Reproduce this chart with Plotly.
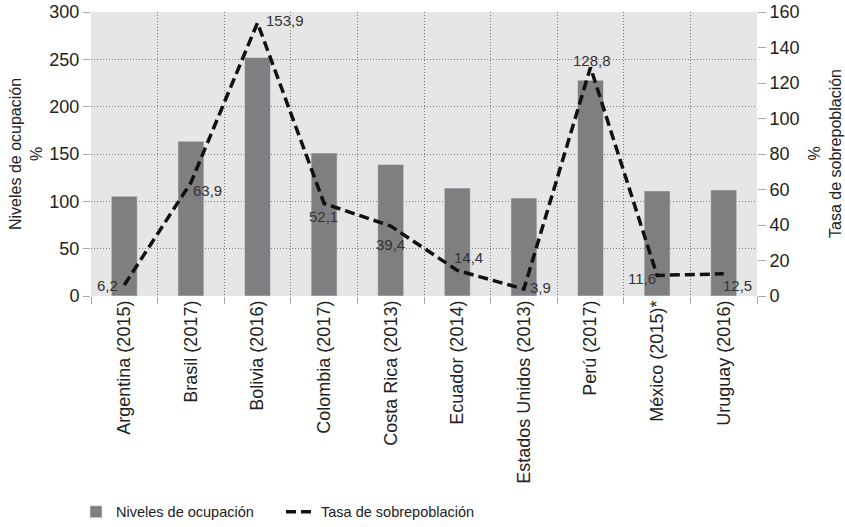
import plotly.graph_objects as go

categories = ["Argentina (2015)", "Brasil (2017)", "Bolivia (2016)", "Colombia (2017)",
              "Costa Rica (2013)", "Ecuador (2014)", "Estados Unidos (2013)", "Perú (2017)",
              "México (2015)*", "Uruguay (2016)"]
ocupacion = [105.5, 163.5, 252, 151, 139, 114, 103.5, 228, 111, 112]
sobrepoblacion = [6.2, 63.9, 153.9, 52.1, 39.4, 14.4, 3.9, 128.8, 11.6, 12.5]

# label offsets (px) relative to each point of the line
label_dx = [-17, 17, 27, -1, 0, 11, 17, 1, -15, 14]
label_dy = [0, -8, 2, -13, -18, 13, 2, 7, -3, -12]

FONT = "Liberation Sans, Arial, sans-serif"
labels = [f"{v:.1f}".replace(".", ",") for v in sobrepoblacion]

fig = go.Figure()
fig.add_trace(go.Bar(
    x=categories, y=ocupacion, name="Niveles de ocupación",
    marker=dict(color="#7f7f81"), width=0.39, yaxis="y"
))
fig.add_trace(go.Scatter(
    x=categories, y=sobrepoblacion, name="Tasa de sobrepoblación", yaxis="y2",
    mode="lines", line=dict(color="#111111", width=3.5, dash="10px,5px"),
    cliponaxis=False
))

annotations = [
    dict(x=c, y=v, xref="x", yref="y2", text=t, showarrow=False,
         xshift=dx, yshift=dy, xanchor="center", yanchor="middle",
         font=dict(family=FONT, size=15, color="#333333"))
    for c, v, t, dx, dy in zip(categories, sobrepoblacion, labels, label_dx, label_dy)
]
annotations += [
    dict(text="Niveles de ocupación<br>%", textangle=-90, xref="paper", yref="paper",
         x=(26 - 91) / 666, y=0.5, showarrow=False, xanchor="center", yanchor="middle",
         font=dict(size=16, family=FONT, color="#222222")),
    dict(text="%<br>Tasa de sobrepoblación", textangle=-90, xref="paper", yref="paper",
         x=(825 - 91) / 666, y=0.5, showarrow=False, xanchor="center", yanchor="middle",
         font=dict(size=16, family=FONT, color="#222222")),
]

grid = dict(showgrid=True, gridcolor="#7a7a7a", gridwidth=1, griddash="1px,2px")

fig.update_layout(
    width=845, height=527,
    margin=dict(l=91, r=88, t=12, b=231, autoexpand=False),
    paper_bgcolor="white", plot_bgcolor="#e6e6e6",
    font=dict(family=FONT, size=17, color="#222222"),
    xaxis=dict(type="category", tickson="boundaries", tickangle=-90, automargin=False,
               ticks="outside", ticklen=7, tickcolor="#aaaaaa",
               tickfont=dict(size=18), showline=False, **grid),
    yaxis=dict(range=[0, 300], dtick=50, zeroline=False, showline=False, automargin=False,
               ticks="outside", ticklen=7, tickcolor="#aaaaaa",
               tickfont=dict(size=18), **grid),
    yaxis2=dict(range=[0, 160], dtick=20, overlaying="y", side="right", automargin=False,
                showgrid=False, zeroline=False, showline=False,
                ticks="outside", ticklen=8, tickcolor="#aaaaaa",
                tickfont=dict(size=18)),
    legend=dict(orientation="h", x=(76 - 91) / 666, xanchor="left", y=-0.76, yanchor="middle",
                font=dict(size=14.5, family=FONT), traceorder="normal",
                itemwidth=30, entrywidth=160),
    showlegend=True,
    annotations=annotations,
)

fig.write_html("out.html", post_script="document.body.style.margin='0';",
               config={"displayModeBar": False})
